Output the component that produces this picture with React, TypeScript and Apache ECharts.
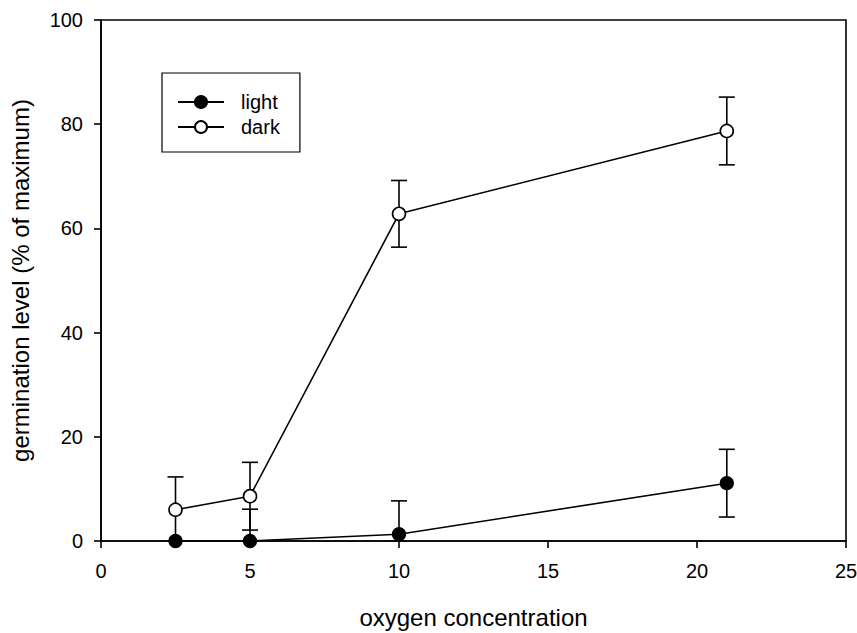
import React, { useEffect, useRef } from "react";
import * as echarts from "echarts";

const oxygen = [2.5, 5, 10, 21];
const lightValues = [0, 0, 1.3, 11.1];
const lightErrors = [0, 6.1, 6.4, 6.5];
const darkValues = [6.0, 8.6, 62.8, 78.7];
const darkErrors = [6.3, 6.5, 6.4, 6.5];
const xTicks = [0, 5, 10, 15, 20, 25];
const yTicks = [0, 20, 40, 60, 80, 100];

const FONT = "Liberation Sans";

function errorSeries(name: string, values: number[], errors: number[]) {
  const data = oxygen.map((x, i) => [x, values[i], Math.max(0, values[i] - errors[i]), values[i] + errors[i]]);
  return {
    name: name + " error",
    type: "custom",
    z: 1,
    silent: true,
    data,
    encode: { x: 0, y: [1, 2, 3] },
    renderItem: (params: any, api: any) => {
      const x = api.value(0);
      const lo = api.coord([x, api.value(2)]);
      const hi = api.coord([x, api.value(3)]);
      const cap = 8;
      const style = { stroke: "#000", lineWidth: 1.6 };
      return {
        type: "group",
        children: [
          { type: "line", shape: { x1: lo[0], y1: lo[1], x2: hi[0], y2: hi[1] }, style },
          { type: "line", shape: { x1: hi[0] - cap, y1: hi[1], x2: hi[0] + cap, y2: hi[1] }, style },
          { type: "line", shape: { x1: lo[0] - cap, y1: lo[1], x2: lo[0] + cap, y2: lo[1] }, style },
        ],
      };
    },
  };
}

export default function App() {
  const ref = useRef<HTMLDivElement>(null);
  useEffect(() => {
    if (!ref.current) return;
    const chart = echarts.init(ref.current, undefined, { renderer: "svg" });
    chart.setOption({
      animation: false,
      backgroundColor: "#fff",
      textStyle: { fontFamily: FONT, color: "#000" },
      grid: {
        left: 101,
        right: 11,
        top: 20,
        bottom: 92,
        containLabel: false,
        outerBoundsMode: "none",
        show: true,
        borderColor: "#000",
        borderWidth: 1.6,
      },
      legend: {
        orient: "vertical",
        left: 162,
        top: 73,
        data: ["light", "dark"],
        borderColor: "#000",
        borderWidth: 1.2,
        padding: [18, 20, 14, 15],
        itemWidth: 46,
        itemHeight: 15,
        itemGap: 3,
        textStyle: { fontFamily: FONT, fontSize: 20, lineHeight: 22, color: "#000", padding: [0, 0, 0, 12] },
      },
      xAxis: {
        type: "value",
        min: 0,
        max: 25,
        interval: 5,
        name: "oxygen concentration",
        nameLocation: "middle",
        nameGap: 64,
        nameTextStyle: { fontFamily: FONT, fontSize: 24, color: "#000" },
        axisLine: { show: true, lineStyle: { color: "#000", width: 1.6 } },
        axisTick: { show: true, length: 7, lineStyle: { color: "#000", width: 1.6 } },
        axisLabel: { fontFamily: FONT, fontSize: 20, color: "#000", margin: 20, formatter: (v: number) => (xTicks.includes(v) ? String(v) : "") },
        splitLine: { show: false },
      },
      yAxis: {
        type: "value",
        min: 0,
        max: 100,
        interval: 20,
        name: "germination level (% of maximum)",
        nameLocation: "middle",
        nameGap: 69,
        nameTextStyle: { fontFamily: FONT, fontSize: 24, color: "#000" },
        axisLine: { show: true, lineStyle: { color: "#000", width: 1.6 } },
        axisTick: { show: true, length: 7, lineStyle: { color: "#000", width: 1.6 } },
        axisLabel: { fontFamily: FONT, fontSize: 20, color: "#000", margin: 18, formatter: (v: number) => (yTicks.includes(v) ? String(v) : "") },
        splitLine: { show: false },
      },
      series: [
        errorSeries("light", lightValues, lightErrors),
        errorSeries("dark", darkValues, darkErrors),
        {
          name: "light",
          type: "line",
          z: 3,
          data: oxygen.map((x, i) => [x, lightValues[i]]),
          symbol: "circle",
          symbolSize: 13,
          lineStyle: { color: "#000", width: 1.6 },
          itemStyle: { color: "#000", borderColor: "#000", borderWidth: 1.2 },
        },
        {
          name: "dark",
          type: "line",
          z: 4,
          data: oxygen.map((x, i) => [x, darkValues[i]]),
          symbol: "circle",
          symbolSize: 13,
          lineStyle: { color: "#000", width: 1.6 },
          itemStyle: { color: "#fff", borderColor: "#000", borderWidth: 1.6 },
        },
      ],
    });
    return () => chart.dispose();
  }, []);
  return <div ref={ref} style={{ width: 857, height: 633, position: "absolute", left: 0, top: 0 }} />;
}
